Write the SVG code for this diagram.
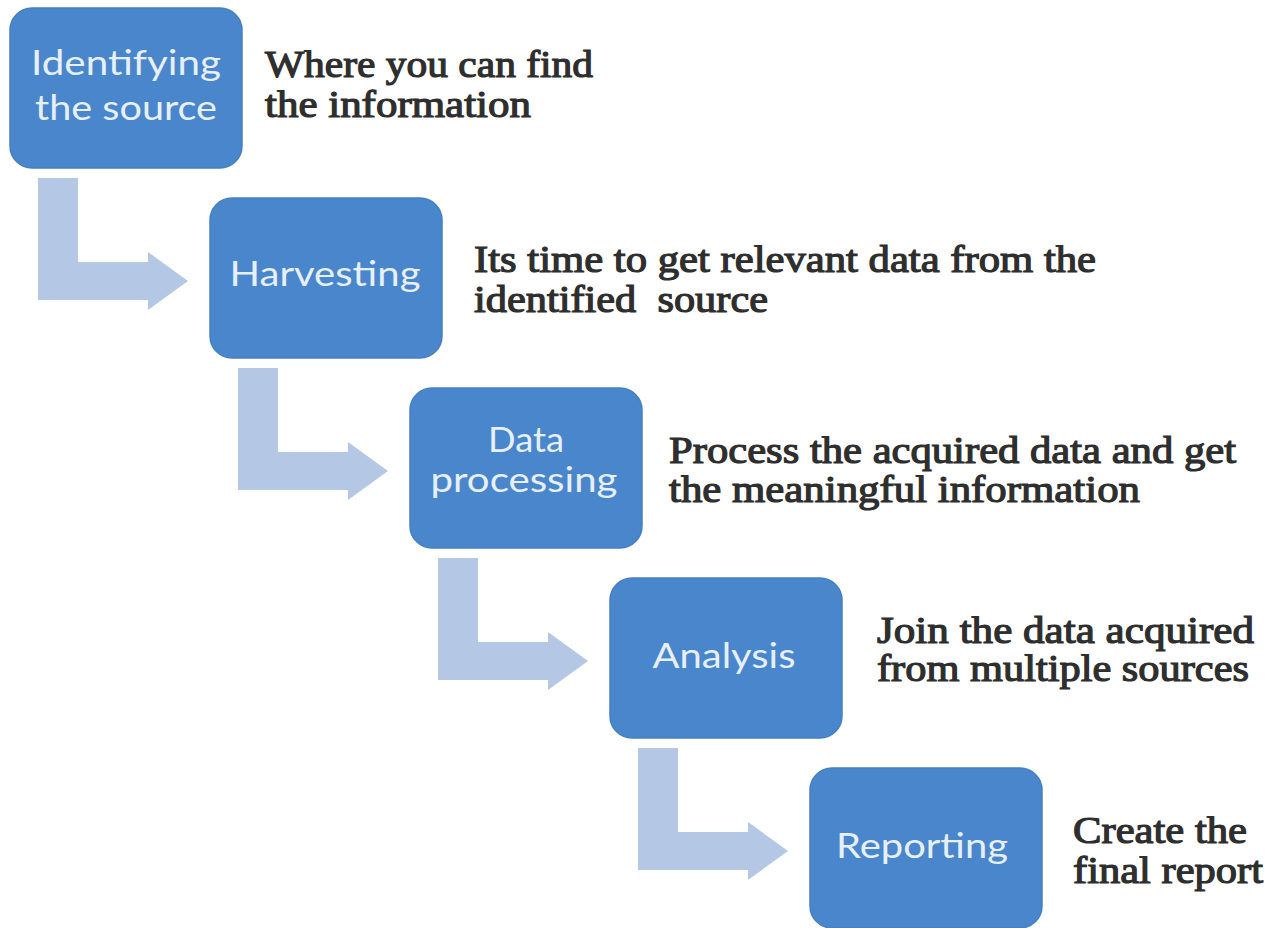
<svg xmlns="http://www.w3.org/2000/svg" width="1271" height="928" viewBox="0 0 1271 928">
  <style>
    .box { fill: #4a86cb; stroke: #4580c4; stroke-width: 1.5; }
    .lbl { font-family: Lato, "Open Sans", "Liberation Sans", sans-serif; font-size: 34px; fill: #e6effa; text-anchor: middle; }
    .desc { font-family: "Liberation Serif", "DejaVu Serif", serif; font-size: 38px; fill: #2e2e2e; stroke: #2e2e2e; stroke-width: 1.2; white-space: pre; }
    .bend { fill: #b4c7e4; }
  </style>
  <defs>
    <!-- bent arrow: down, then right to the next step -->
    <path id="bent" class="bend" d="M38 178 H78 V262 H148 V252 L188 281 L148 310 V300 H38 Z"/>
  </defs>
  <rect width="1271" height="928" fill="#ffffff"/>

  <g id="connectors">
    <use href="#bent"/>
    <use href="#bent" transform="translate(200 190)"/>
    <use href="#bent" transform="translate(400 380)"/>
    <use href="#bent" transform="translate(600 570)"/>
  </g>

  <g id="step-identify">
    <rect class="box" x="10" y="8" width="232" height="160" rx="22"/>
    <text class="lbl" x="126" y="75" textLength="190" lengthAdjust="spacingAndGlyphs">Identifying</text>
    <text class="lbl" x="126" y="120" textLength="182" lengthAdjust="spacingAndGlyphs">the source</text>
    <text class="desc" x="265" y="77" textLength="328" lengthAdjust="spacingAndGlyphs">Where you can find</text>
    <text class="desc" x="265" y="117" textLength="266" lengthAdjust="spacingAndGlyphs">the information</text>
  </g>

  <g id="step-harvest">
    <rect class="box" x="210" y="198" width="232" height="160" rx="22"/>
    <text class="lbl" x="325" y="286" textLength="191" lengthAdjust="spacingAndGlyphs">Harvesting</text>
    <text class="desc" x="474" y="272" textLength="622" lengthAdjust="spacingAndGlyphs">Its time to get relevant data from the</text>
    <text class="desc" x="474" y="312" textLength="294" lengthAdjust="spacingAndGlyphs">identified  source</text>
  </g>

  <g id="step-process">
    <rect class="box" x="410" y="388" width="232" height="160" rx="22"/>
    <text class="lbl" x="526" y="452" textLength="76" lengthAdjust="spacingAndGlyphs">Data</text>
    <text class="lbl" x="524" y="492" textLength="187" lengthAdjust="spacingAndGlyphs">processing</text>
    <text class="desc" x="669" y="463" textLength="567" lengthAdjust="spacingAndGlyphs">Process the acquired data and get</text>
    <text class="desc" x="669" y="502" textLength="471" lengthAdjust="spacingAndGlyphs">the meaningful information</text>
  </g>

  <g id="step-analysis">
    <rect class="box" x="610" y="578" width="232" height="160" rx="22"/>
    <text class="lbl" x="724" y="668" textLength="143" lengthAdjust="spacingAndGlyphs">Analysis</text>
    <text class="desc" x="877" y="643" textLength="377" lengthAdjust="spacingAndGlyphs">Join the data acquired</text>
    <text class="desc" x="877" y="681" textLength="372" lengthAdjust="spacingAndGlyphs">from multiple sources</text>
  </g>

  <g id="step-report">
    <rect class="box" x="810" y="768" width="232" height="160" rx="22"/>
    <text class="lbl" x="922" y="858" textLength="172" lengthAdjust="spacingAndGlyphs">Reporting</text>
    <text class="desc" x="1073" y="843" textLength="174" lengthAdjust="spacingAndGlyphs">Create the</text>
    <text class="desc" x="1073" y="883" textLength="190" lengthAdjust="spacingAndGlyphs">final report</text>
  </g>
</svg>
